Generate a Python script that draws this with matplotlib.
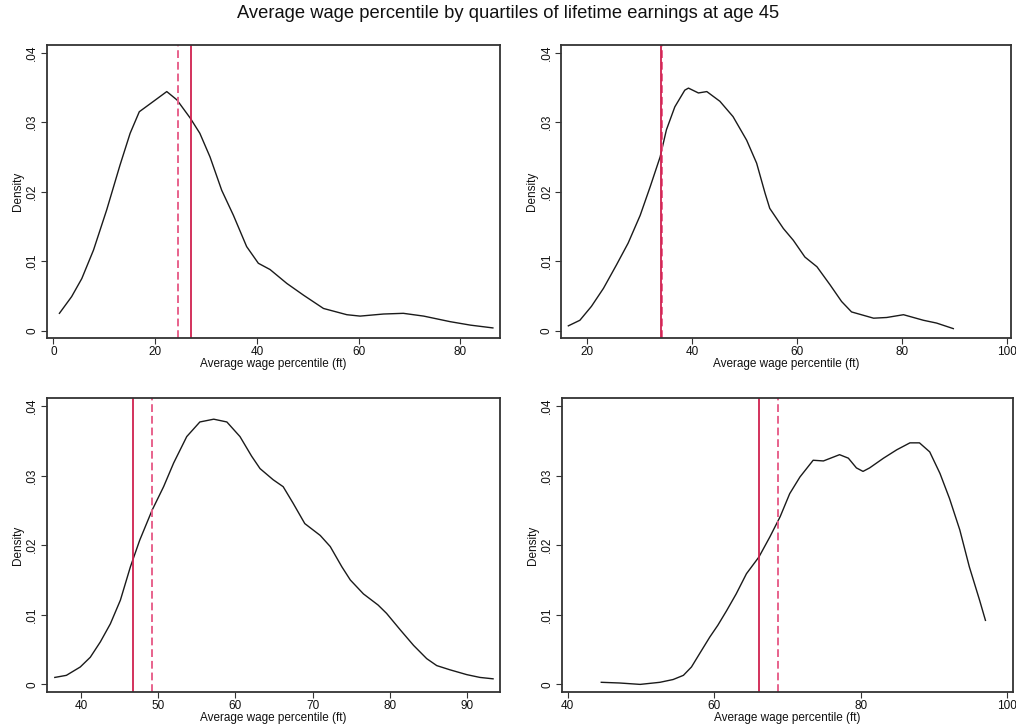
import matplotlib
matplotlib.use("Agg")
import matplotlib.pyplot as plt
from matplotlib.ticker import FixedLocator, FixedFormatter

plt.rcParams['font.family'] = ['Liberation Sans', 'DejaVu Sans']

TITLE = "Average wage percentile by quartiles of lifetime earnings at age 45"
XLABEL = "Average wage percentile (ft)"
YLABEL = "Density"
YTICKS = [0, 0.01, 0.02, 0.03, 0.04]
YTICKLABELS = ["0", ".01", ".02", ".03", ".04"]

# Panel 1 (top-left)
q1_x = [1.2, 3.6, 5.6, 7.9, 10.5, 13.1, 15.1, 16.9, 19.7, 22.3, 24.3, 26.9, 28.8, 30.8, 33.1,
        35.4, 38.0, 40.3, 42.6, 45.9, 49.2, 53.1, 57.7, 60.3, 64.9, 68.8, 72.8, 78.0, 82.0, 86.4]
q1_y = [0.0025, 0.0049, 0.0075, 0.0116, 0.0174, 0.0238, 0.0284, 0.0315, 0.0330, 0.0344, 0.0332,
        0.0306, 0.0284, 0.0250, 0.0202, 0.0166, 0.0121, 0.0097, 0.0088, 0.0068, 0.0051, 0.0032,
        0.0023, 0.0021, 0.0024, 0.0025, 0.0021, 0.0013, 0.0008, 0.0004]
q1_mean, q1_median = 27.0, 24.6
q1_xticks = [0, 20, 40, 60, 80]

# Panel 2 (top-right)
q2_x = [16.4, 18.6, 20.8, 23.1, 25.6, 27.8, 30.1, 32.0, 33.9, 35.1, 36.7, 38.6, 39.3, 41.2, 42.8,
        45.3, 47.8, 50.4, 52.3, 53.9, 54.8, 57.4, 59.3, 61.5, 63.8, 66.3, 68.5, 70.4, 74.6, 77.1,
        80.3, 84.1, 86.6, 89.8]
q2_y = [0.0007, 0.0015, 0.0035, 0.0061, 0.0095, 0.0126, 0.0166, 0.0207, 0.0250, 0.0289, 0.0322,
        0.0346, 0.0349, 0.0342, 0.0344, 0.0330, 0.0308, 0.0274, 0.0241, 0.0198, 0.0176, 0.0147,
        0.0130, 0.0106, 0.0092, 0.0066, 0.0042, 0.0027, 0.0018, 0.0019, 0.0023, 0.0015, 0.0011,
        0.0003]
q2_mean, q2_median = 34.0, 34.35
q2_xticks = [20, 40, 60, 80, 100]

# Panel 3 (bottom-left)
q3_x = [36.6, 38.1, 39.9, 41.2, 42.5, 43.8, 45.1, 46.4, 47.6, 49.2, 50.7, 52.0, 53.7, 55.4, 57.2,
        58.9, 60.6, 62.1, 63.2, 64.9, 66.2, 67.5, 69.0, 71.0, 72.3, 73.8, 74.9, 76.6, 78.5, 79.6,
        81.4, 83.1, 84.8, 86.1, 87.8, 90.0, 91.7, 93.4]
q3_y = [0.0010, 0.0013, 0.0025, 0.0039, 0.0061, 0.0087, 0.0121, 0.0169, 0.0207, 0.0250, 0.0284,
        0.0318, 0.0356, 0.0377, 0.0381, 0.0377, 0.0356, 0.0328, 0.0310, 0.0294, 0.0284, 0.0260,
        0.0231, 0.0214, 0.0198, 0.0169, 0.0150, 0.0130, 0.0114, 0.0102, 0.0078, 0.0056, 0.0037,
        0.0027, 0.0021, 0.0014, 0.0010, 0.0008]
q3_mean, q3_median = 46.7, 49.2
q3_xticks = [40, 50, 60, 70, 80, 90]

# Panel 4 (bottom-right)
q4_x = [44.6, 47.1, 49.9, 52.6, 54.4, 55.8, 56.9, 58.0, 59.4, 60.5, 61.7, 63.0, 64.4, 66.1, 67.6,
        69.0, 70.3, 71.7, 73.5, 74.9, 77.1, 78.3, 79.4, 80.3, 81.2, 83.1, 84.9, 86.7, 88.0, 89.4,
        90.8, 92.1, 93.5, 94.8, 96.2, 97.0]
q4_y = [0.0003, 0.0002, 0.0000, 0.0003, 0.0007, 0.0013, 0.0025, 0.0044, 0.0068, 0.0085, 0.0106,
        0.0130, 0.0159, 0.0183, 0.0212, 0.0241, 0.0274, 0.0298, 0.0322, 0.0321, 0.0330, 0.0325,
        0.0311, 0.0306, 0.0311, 0.0325, 0.0337, 0.0347, 0.0347, 0.0334, 0.0303, 0.0267, 0.0222,
        0.0169, 0.0121, 0.0092]
q4_mean, q4_median = 66.1, 68.75
q4_xticks = [40, 60, 80, 100]

panels = [
    (q1_x, q1_y, q1_mean, q1_median, q1_xticks, (-1.3, 87.8), [46.7, 45, 500, 338]),
    (q2_x, q2_y, q2_mean, q2_median, q2_xticks, (15.0, 100.8), [561, 45, 1011, 338]),
    (q3_x, q3_y, q3_mean, q3_median, q3_xticks, (35.55, 94.3), [46.7, 398.3, 500, 691.7]),
    (q4_x, q4_y, q4_mean, q4_median, q4_xticks, (39.2, 100.8), [561.7, 398.3, 1013.3, 691.7]),
]

W, H = 1016, 727
fig = plt.figure(figsize=(W / 100, H / 100), dpi=100)
fig.text(0.5, 1 - 14 / H, TITLE, ha='center', va='center', fontsize=13.2, color='#111111')

SOLID = '#d0214f'
DASH = '#e8628c'
SPINE = '#333333'

for xs, ys, mean, median, xticks, xlim, (l, t, r, b) in panels:
    ax = fig.add_axes([l / W, 1 - b / H, (r - l) / W, (b - t) / H])
    ax.plot(xs, ys, color='#1a1a1a', lw=1.0, solid_joinstyle='round')
    ax.axvline(median, color=DASH, lw=1.4, ls=(0, (4, 2)))
    ax.axvline(mean, color=SOLID, lw=1.3)
    ax.set_xlim(*xlim)
    ax.set_ylim(-0.00105, 0.0411)
    ax.xaxis.set_major_locator(FixedLocator(xticks))
    ax.yaxis.set_major_locator(FixedLocator(YTICKS))
    ax.yaxis.set_major_formatter(FixedFormatter(YTICKLABELS))
    for lab in ax.get_yticklabels():
        lab.set_rotation(90)
        lab.set_va('center')
    ax.tick_params(axis='both', direction='out', length=4, width=0.8, color=SPINE,
                   labelsize=8.5, pad=2, labelcolor='#111111')
    ax.set_xlabel(XLABEL, fontsize=8.5, labelpad=0, color='#111111')
    ax.set_ylabel(YLABEL, fontsize=8.5, labelpad=2, color='#111111')
    for s in ax.spines.values():
        s.set_color(SPINE)
        s.set_linewidth(1.3)

fig.savefig('out.png', dpi=100)
